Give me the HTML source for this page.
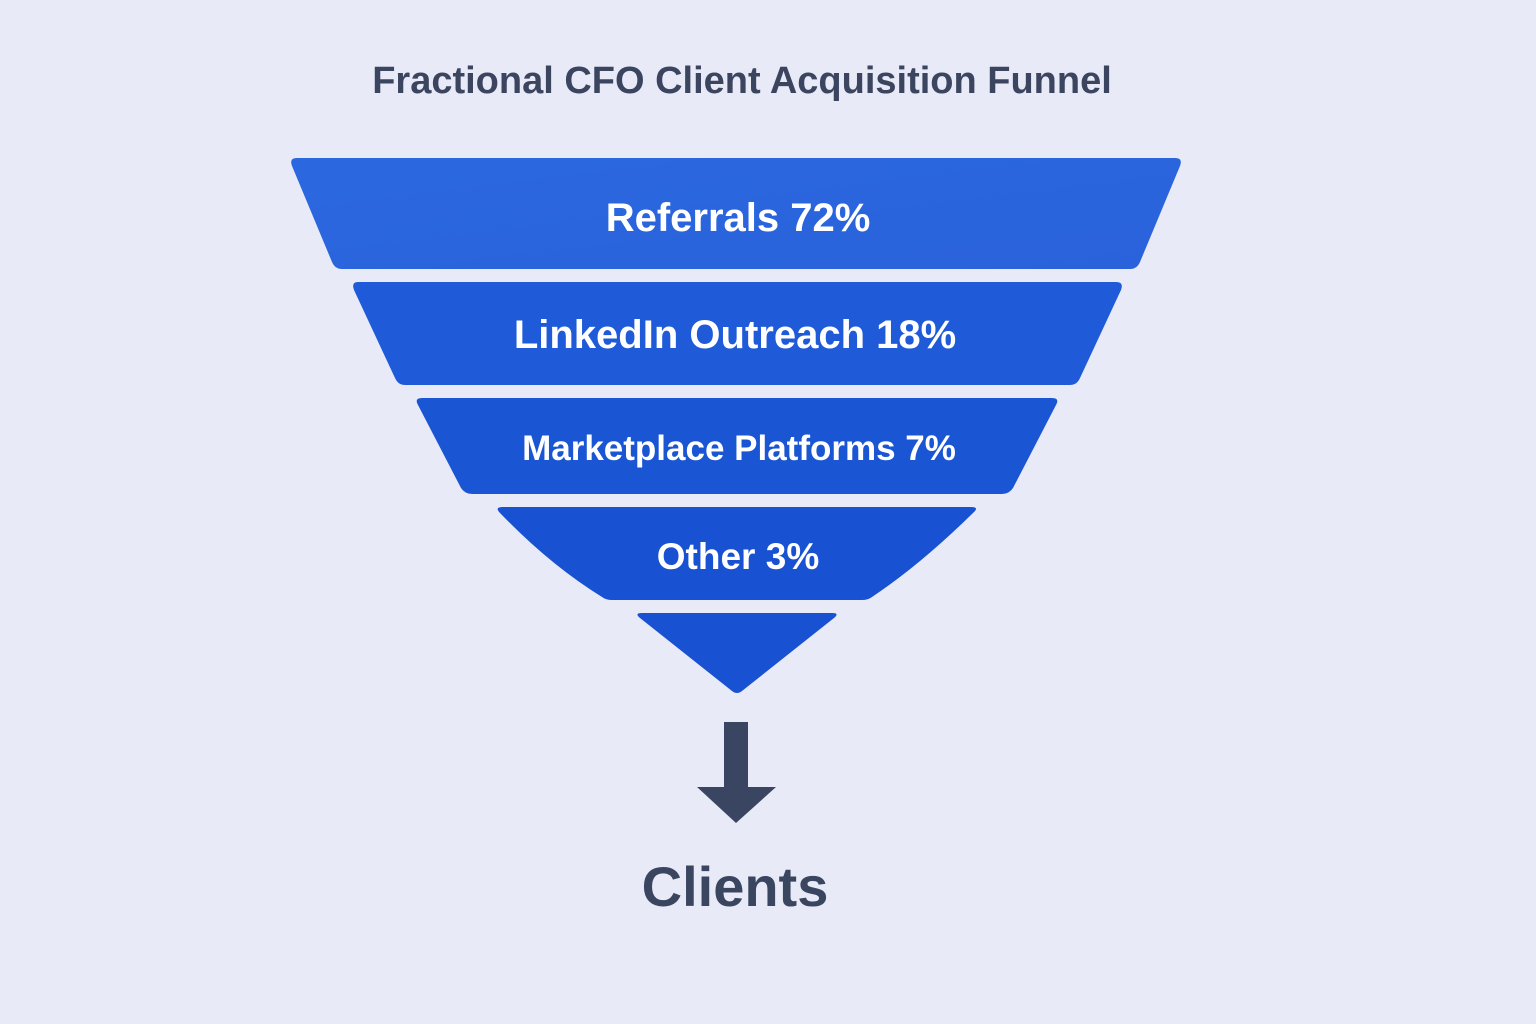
<!DOCTYPE html>
<html><head><meta charset="utf-8"><style>
html,body{margin:0;padding:0;background:#e8eaf8;}
svg{display:block}
text{font-family:"Liberation Sans","DejaVu Sans",sans-serif;font-weight:bold}
</style></head><body>
<svg width="1536" height="1024" viewBox="0 0 1536 1024" xmlns="http://www.w3.org/2000/svg">
<defs>
<linearGradient id="g1" x1="0" y1="0" x2="1" y2="1"><stop offset="0" stop-color="#2b68df"/><stop offset="1" stop-color="#2a62db"/></linearGradient>
</defs>
<rect width="1536" height="1024" fill="#e8eaf8"/>
<text x="742" y="93" text-anchor="middle" font-size="38" fill="#3c4560">Fractional CFO Client Acquisition Funnel</text>
<path d="M297,158 L1175,158 Q1183,158 1180,166 L1140,262 Q1137,269 1130,269 L342,269 Q335,269 332,262 L292,166 Q289,158 297,158 Z" fill="url(#g1)"/>
<path d="M358,282 L1116,282 Q1124,282 1121,290 L1080,378 Q1077,385 1070,385 L405,385 Q398,385 395,378 L354,290 Q351,282 358,282 Z" fill="#1f5ad8"/>
<path d="M422,398 L1052,398 Q1060,398 1056,405 L1013,488 Q1009,494 1002,494 L472,494 Q465,494 461,488 L418,405 Q414,398 422,398 Z" fill="#1a55d4"/>
<path d="M503,507 L971,507 Q980,507 973,513 Q920,565 872,597 Q868,600 862,600 L612,600 Q606,600 602,597 Q550,565 500,513 Q494,507 503,507 Z" fill="#1852d2"/>
<path d="M642,613 L832,613 Q840,613 834,618 L742,691 Q737,695 732,691 L640,618 Q634,613 642,613 Z" fill="#1852d2"/>
<text x="738" y="231" text-anchor="middle" font-size="40" fill="#fff">Referrals  72%</text>
<text x="735" y="348" text-anchor="middle" font-size="40" fill="#fff">LinkedIn Outreach  18%</text>
<text x="739" y="460" text-anchor="middle" font-size="35" fill="#fff">Marketplace Platforms  7%</text>
<text x="738" y="569" text-anchor="middle" font-size="37" fill="#fff">Other  3%</text>
<rect x="724" y="722" width="24" height="67" fill="#3a4562"/>
<path d="M697,787 L776,787 L736,823 Z" fill="#3a4562"/>
<text x="735" y="906" text-anchor="middle" font-size="56" fill="#3a4560">Clients</text>
</svg>
</body></html>
